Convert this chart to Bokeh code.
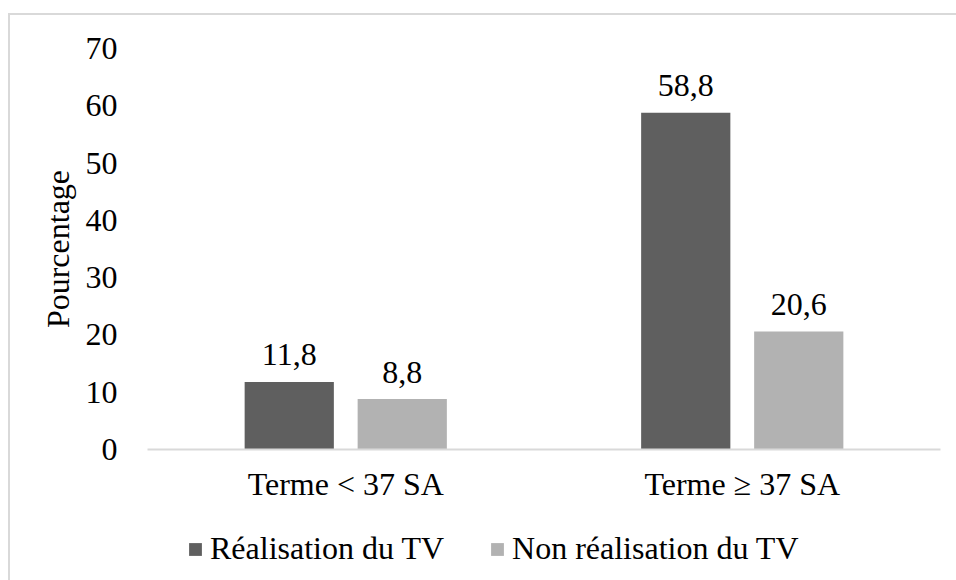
from bokeh.plotting import figure
from bokeh.models import ColumnDataSource, FactorRange, Range1d, FixedTicker, Legend, LegendItem
from bokeh.layouts import column
from bokeh.transform import dodge
from bokeh.core.properties import value
from bokeh.embed import file_html
from bokeh.resources import INLINE

categories = ["Terme < 37 SA", "Terme \u2265 37 SA"]
series_names = ["R\u00e9alisation du TV", "Non r\u00e9alisation du TV"]
realisation = [11.8, 58.8]
non_realisation = [8.8, 20.6]
y_ticks = [0, 10, 20, 30, 40, 50, 60, 70]

FONT = "Liberation Serif"
FS = "32px"
DARK = "#5f5f5f"
LIGHT = "#b2b2b2"

def fmt(v):
    return f"{v:.1f}".replace(".", ",")

src = ColumnDataSource(dict(
    cat=categories,
    real=realisation,
    non=non_realisation,
    real_lbl=[fmt(v) for v in realisation],
    non_lbl=[fmt(v) for v in non_realisation],
))

p = figure(
    x_range=FactorRange(*categories, range_padding=0),
    y_range=Range1d(0, 70),
    width=946, height=510,
    output_backend="svg", toolbar_location=None,
    min_border_left=137, min_border_right=16,
    min_border_top=33, min_border_bottom=76,
)
p.outline_line_color = None
p.xgrid.grid_line_color = None
p.ygrid.grid_line_color = None

r1 = p.vbar(x=dodge("cat", -0.1425, range=p.x_range), top="real", width=0.225,
            source=src, fill_color=DARK, line_color=None)
r2 = p.vbar(x=dodge("cat", 0.1425, range=p.x_range), top="non", width=0.225,
            source=src, fill_color=LIGHT, line_color=None)

p.text(x=dodge("cat", -0.1425, range=p.x_range), y="real", text="real_lbl", source=src,
       text_font=value(FONT), text_font_size=FS, text_align="center",
       text_baseline="alphabetic", y_offset=-27, text_color="black")
p.text(x=dodge("cat", 0.1425, range=p.x_range), y="non", text="non_lbl", source=src,
       text_font=value(FONT), text_font_size=FS, text_align="center",
       text_baseline="alphabetic", y_offset=-27, text_color="black")

# axes
p.yaxis.ticker = FixedTicker(ticks=y_ticks)
p.yaxis.axis_line_color = None
p.yaxis.major_tick_line_color = None
p.yaxis.minor_tick_line_color = None
p.yaxis.major_label_standoff = 24
p.yaxis.major_label_text_font = FONT
p.yaxis.major_label_text_font_size = FS
p.yaxis.major_label_text_color = "black"
p.yaxis.axis_label = "Pourcentage"
p.yaxis.axis_label_text_font = FONT
p.yaxis.axis_label_text_font_size = FS
p.yaxis.axis_label_text_font_style = "normal"
p.yaxis.axis_label_text_color = "black"
p.yaxis.axis_label_standoff = 7

p.xaxis.axis_line_color = "#d9d9d9"
p.xaxis.axis_line_width = 2
p.xaxis.major_tick_line_color = None
p.xaxis.minor_tick_line_color = None
p.xaxis.major_label_standoff = 10
p.xaxis.major_label_text_font = FONT
p.xaxis.major_label_text_font_size = FS
p.xaxis.major_label_text_color = "black"

# legend strip below the chart (swatch renderers sit outside the visible range)
lf = figure(width=946, height=55, x_range=Range1d(0, 1), y_range=Range1d(0, 1),
            output_backend="svg", toolbar_location=None,
            min_border=0, min_border_left=0, min_border_right=0,
            min_border_top=0, min_border_bottom=0)
lf.axis.visible = False
lf.grid.visible = False
lf.outline_line_color = None
lf.border_fill_color = "white"
lf.background_fill_color = "white"
lr1 = lf.vbar(x=[0.5], top=[-5], bottom=[-6], width=0.1, fill_color=DARK, line_color=None)
lr2 = lf.vbar(x=[0.5], top=[-5], bottom=[-6], width=0.1, fill_color=LIGHT, line_color=None)

legend = Legend(
    items=[LegendItem(label=series_names[0], renderers=[lr1]),
           LegendItem(label=series_names[1], renderers=[lr2])],
    orientation="horizontal",
    location=(40, 13),
    glyph_width=16, glyph_height=16,
    label_standoff=7, spacing=45,
    padding=0, margin=0,
    label_text_font=FONT, label_text_font_size=FS, label_text_color="black",
    label_height=36,
    border_line_color=None, background_fill_alpha=0,
)
lf.add_layout(legend, "center")

layout = column(p, lf, spacing=0)
layout.styles = {"border-top": "2px solid #d9d9d9", "border-left": "2px solid #d9d9d9",
                 "margin-top": "13px", "margin-left": "8px"}

open("out.html", "w").write(file_html(layout, INLINE))
